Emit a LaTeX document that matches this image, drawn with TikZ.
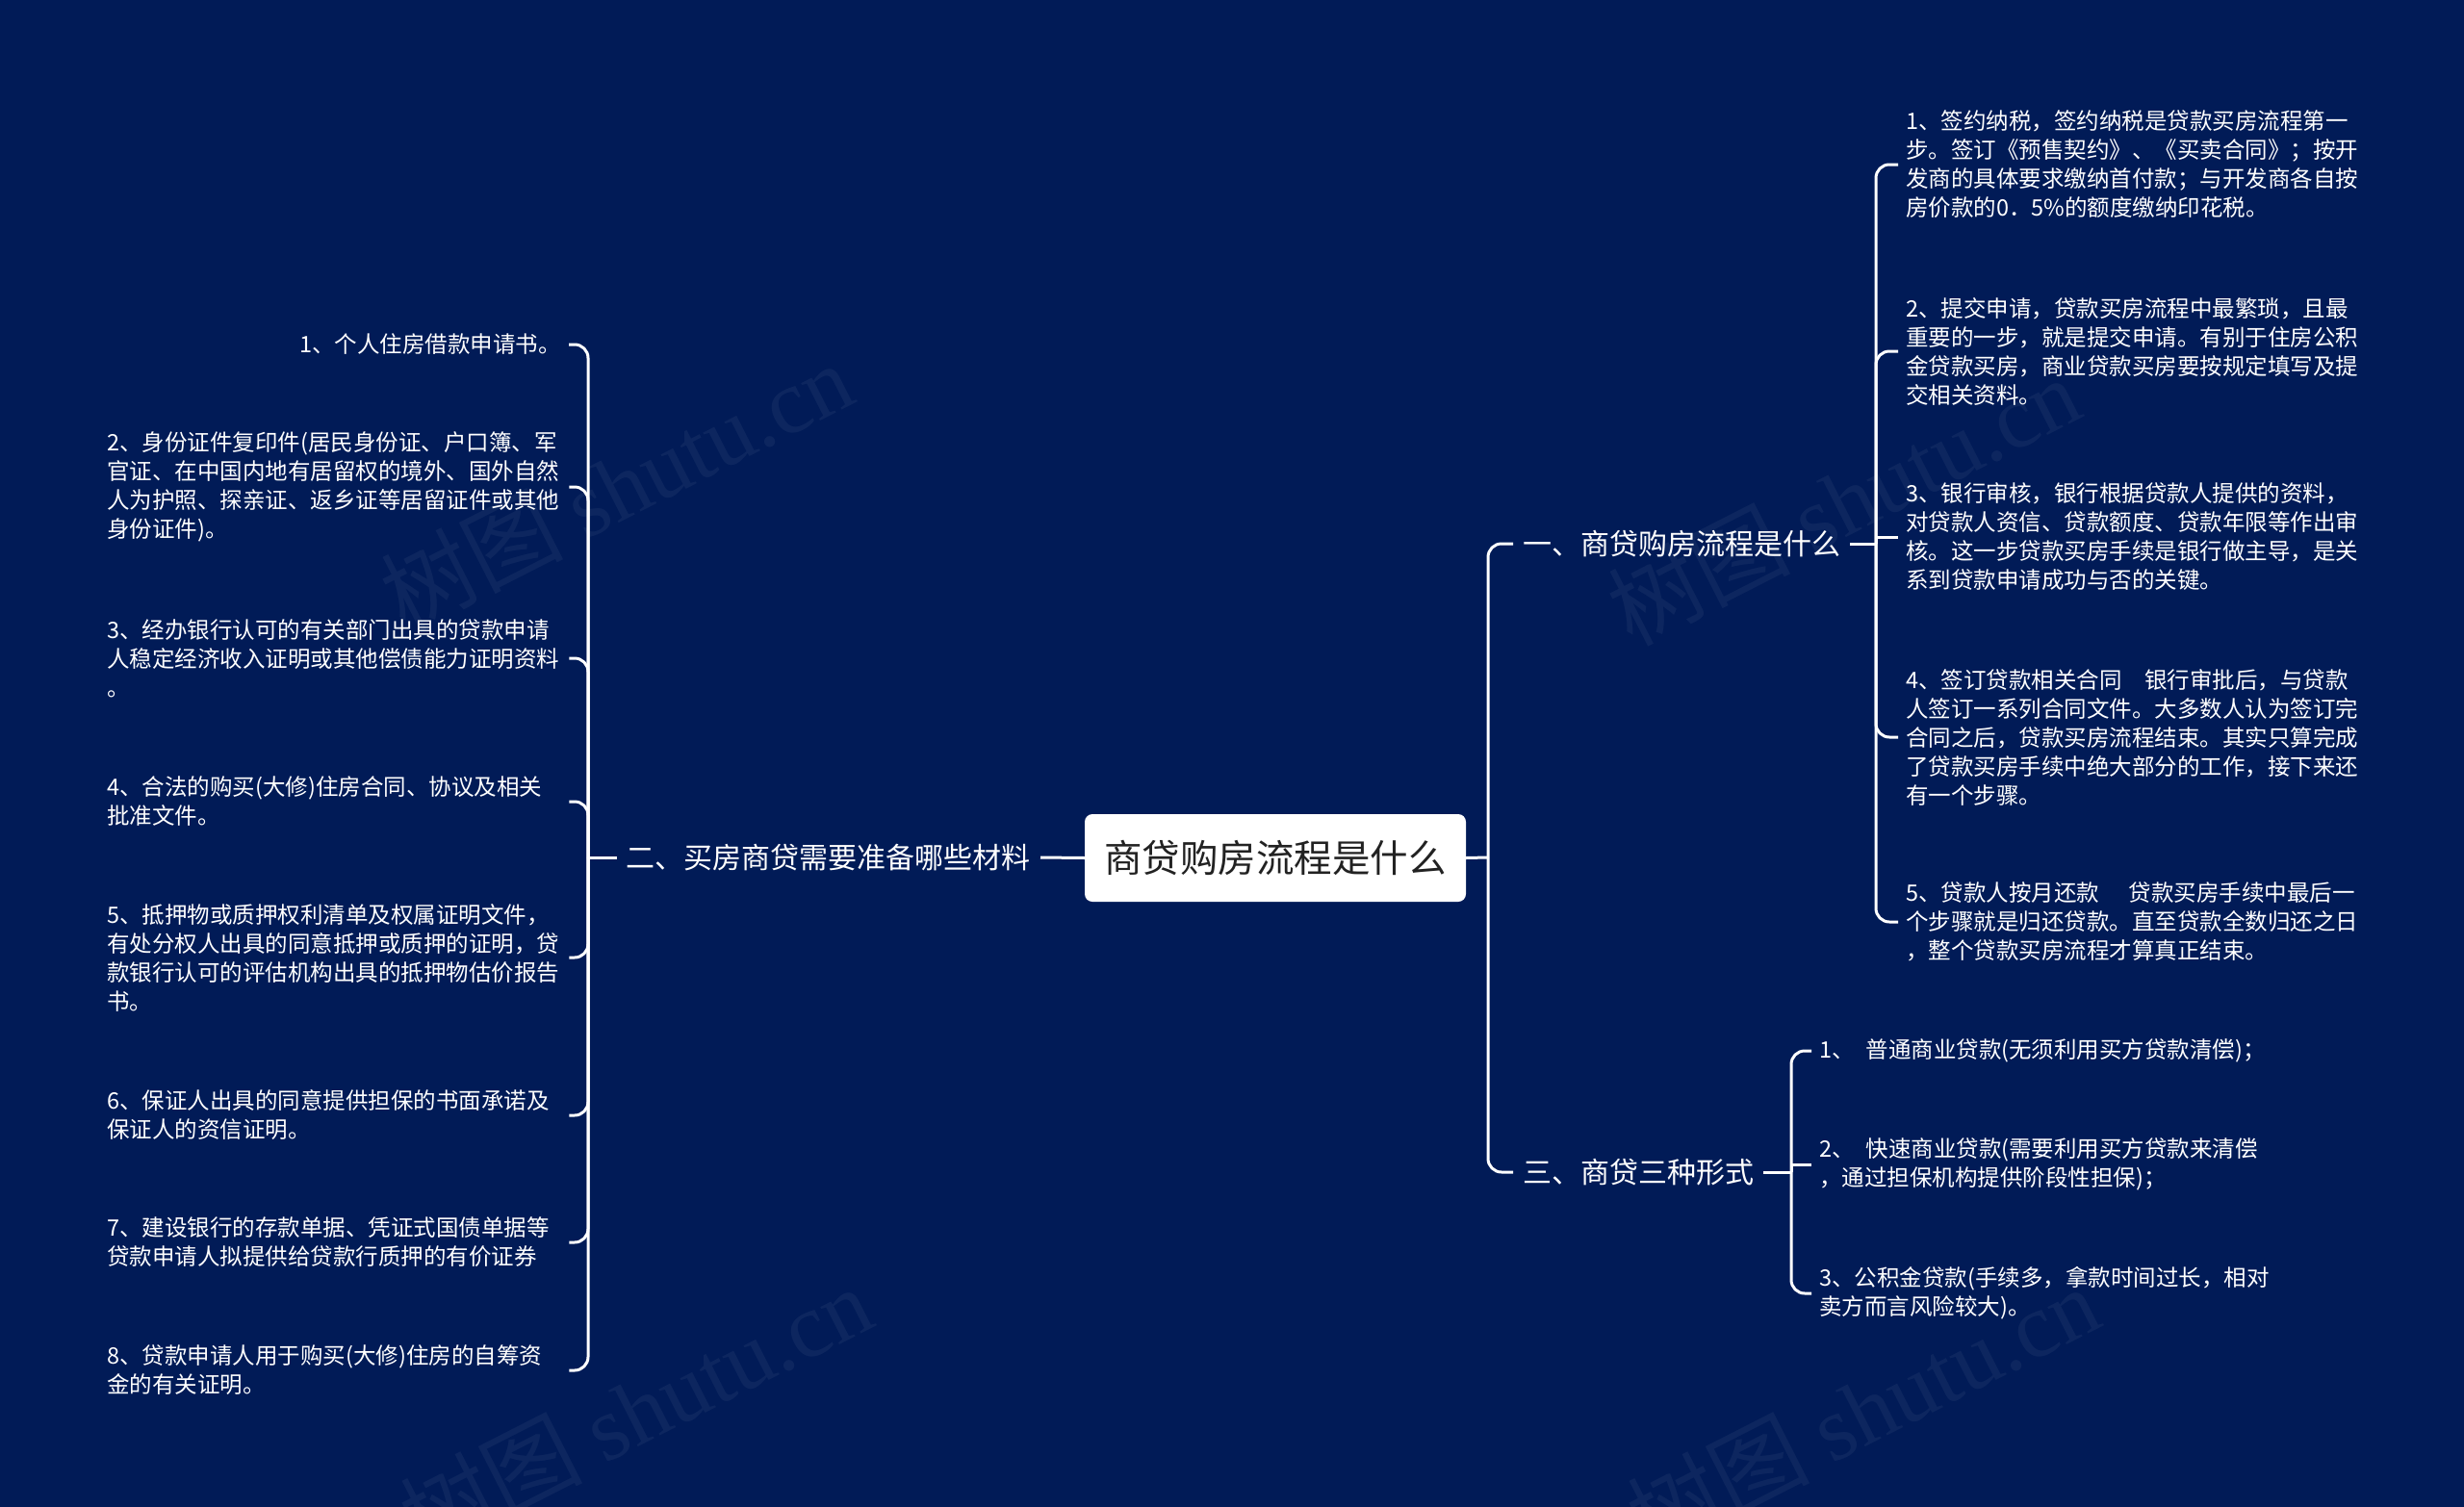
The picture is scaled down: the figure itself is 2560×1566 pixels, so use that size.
\documentclass[tikz,border=0pt]{standalone}
\usepackage{fontspec}
\setmainfont{Noto Sans CJK SC}
\newfontfamily\wmserif{Liberation Serif}
\definecolor{bg}{RGB}{1,27,87}
\definecolor{roottext}{RGB}{34,34,34}
\begin{document}
\begin{tikzpicture}[x=1pt,y=-1pt,
  conn/.style={draw=white, line width=3pt, rounded corners=14pt},
  leaf/.style={text=white, font=\fontsize{23.5pt}{30pt}\selectfont, align=left, inner xsep=8pt, inner ysep=0pt},
  lleaf/.style={leaf, text width=472pt},
  branch/.style={text=white, font=\fontsize{30pt}{34pt}\selectfont, inner xsep=10pt, inner ysep=4pt},
  rootbox/.style={fill=white, rounded corners=8pt, minimum width=396pt, minimum height=91pt, text=roottext, font=\fontsize{39.5pt}{44pt}\selectfont},
  wm/.style={text=white, opacity=0.05, rotate=27, font=\fontsize{95pt}{95pt}\selectfont}]
\fill[bg] (0,0) rectangle (2560,1566);
\useasboundingbox (0,0) rectangle (2560,1566);

% watermarks
\node[wm] (wm1) at (640,505) {树图 {\wmserif shutu.cn}};
\node[wm] (wm2) at (1915,520) {树图 {\wmserif shutu.cn}};
\node[wm] (wm3) at (660,1465) {树图 {\wmserif shutu.cn}};
\node[wm] (wm4) at (1935,1465) {树图 {\wmserif shutu.cn}};

% root
\node[rootbox] (root) at (1325,891.5) {商贷购房流程是什么};

% branches
\node[branch, anchor=west] (b1) at (1572,565) {一、商贷购房流程是什么};
\node[branch, anchor=east] (b2) at (1081,891) {二、买房商贷需要准备哪些材料};
\node[branch, anchor=west] (b3) at (1572,1218) {三、商贷三种形式};

\coordinate (jr) at (1546,891);
\coordinate (jl) at (611,891);
\coordinate (j1) at (1949,565);
\coordinate (j3) at (1861,1218);

% right leaves of b1
\node[leaf, anchor=west] (r1) at (1972,171) {1、签约纳税，签约纳税是贷款买房流程第一\\步。签订《预售契约》、《买卖合同》；按开\\发商的具体要求缴纳首付款；与开发商各自按\\房价款的0．5\%的额度缴纳印花税。};
\node[leaf, anchor=west] (r2) at (1972,365) {2、提交申请，贷款买房流程中最繁琐，且最\\重要的一步，就是提交申请。有别于住房公积\\金贷款买房，商业贷款买房要按规定填写及提\\交相关资料。};
\node[leaf, anchor=west] (r3) at (1972,558) {3、银行审核，银行根据贷款人提供的资料，\\对贷款人资信、贷款额度、贷款年限等作出审\\核。这一步贷款买房手续是银行做主导，是关\\系到贷款申请成功与否的关键。};
\node[leaf, anchor=west] (r4) at (1972,766) {4、签订贷款相关合同\hspace{1em}银行审批后，与贷款\\人签订一系列合同文件。大多数人认为签订完\\合同之后，贷款买房流程结束。其实只算完成\\了贷款买房手续中绝大部分的工作，接下来还\\有一个步骤。};
\node[leaf, anchor=west] (r5) at (1972,958) {5、贷款人按月还款\hspace{1.3em}贷款买房手续中最后一\\个步骤就是归还贷款。直至贷款全数归还之日\\，整个贷款买房流程才算真正结束。};

% leaves of b3
\node[leaf, anchor=west] (s1) at (1882,1092) {1、\hspace{0.5em}普通商业贷款(无须利用买方贷款清偿)；};
\node[leaf, anchor=west] (s2) at (1882,1210) {2、\hspace{0.5em}快速商业贷款(需要利用买方贷款来清偿\\，通过担保机构提供阶段性担保)；};
\node[leaf, anchor=west] (s3) at (1882,1344) {3、公积金贷款(手续多，拿款时间过长，相对\\卖方而言风险较大)。};

% left leaves of b2
\node[leaf, anchor=east] (l1) at (591,358) {1、个人住房借款申请书。};
\node[lleaf, anchor=west] (l2) at (103,506) {2、身份证件复印件(居民身份证、户口簿、军\\官证、在中国内地有居留权的境外、国外自然\\人为护照、探亲证、返乡证等居留证件或其他\\身份证件)。};
\node[lleaf, anchor=west] (l3) at (103,684) {3、经办银行认可的有关部门出具的贷款申请\\人稳定经济收入证明或其他偿债能力证明资料\\。};
\node[lleaf, anchor=west] (l4) at (103,833) {4、合法的购买(大修)住房合同、协议及相关\\批准文件。};
\node[lleaf, anchor=west] (l5) at (103,995) {5、抵押物或质押权利清单及权属证明文件，\\有处分权人出具的同意抵押或质押的证明，贷\\款银行认可的评估机构出具的抵押物估价报告\\书。};
\node[lleaf, anchor=west] (l6) at (103,1159) {6、保证人出具的同意提供担保的书面承诺及\\保证人的资信证明。};
\node[lleaf, anchor=west] (l7) at (103,1291) {7、建设银行的存款单据、凭证式国债单据等\\贷款申请人拟提供给贷款行质押的有价证券};
\node[lleaf, anchor=west] (l8) at (103,1424) {8、贷款申请人用于购买(大修)住房的自筹资\\金的有关证明。};

% connectors
\draw[conn] (root.east) -- (jr);
\draw[conn] (jr) |- (b1.west);
\draw[conn] (jr) |- (b3.west);
\draw[conn] (root.west) -- (b2.east);
\draw[conn] (b2.west) -- (jl);
\foreach \n in {l1,l2,l3,l4,l5,l6,l7,l8} \draw[conn] (jl) |- (\n.east);
\draw[conn] (b1.east) -- (j1);
\foreach \n in {r1,r2,r4,r5} \draw[conn] (j1) |- (\n.west);
\draw[conn, sharp corners] (j1) |- (r3.west);
\draw[conn] (b3.east) -- (j3);
\foreach \n in {s1,s3} \draw[conn] (j3) |- (\n.west);
\draw[conn, sharp corners] (j3) |- (s2.west);
\end{tikzpicture}
\end{document}
